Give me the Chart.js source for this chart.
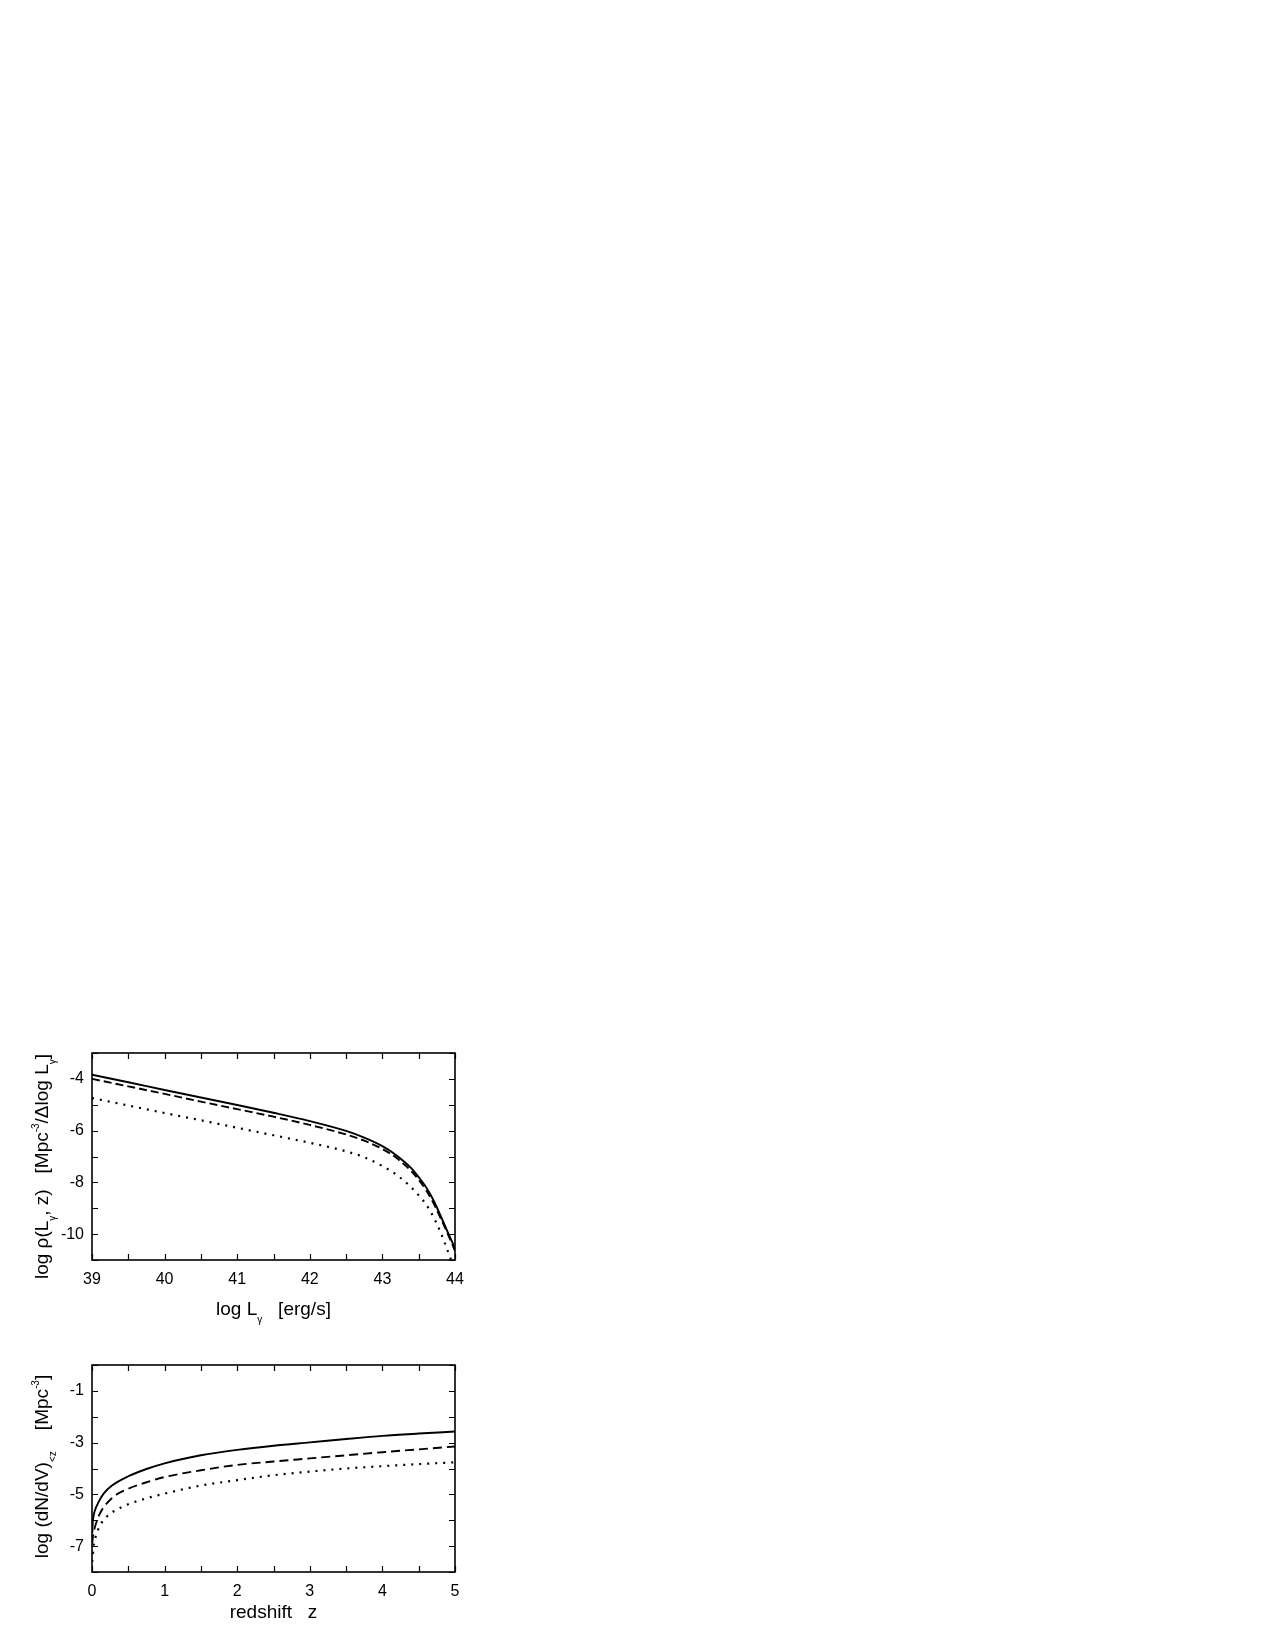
<!DOCTYPE html>
<html>
<head>
<meta charset="utf-8">
<script src="https://cdn.jsdelivr.net/npm/chart.js@4.4.0/dist/chart.umd.min.js"></script>
<style>
  body { margin: 0; background: #fff; width: 1275px; height: 1650px; position: relative; }
  canvas { position: absolute; left: 0; }
  #lumChart { top: 1030px; }
  #zChart { top: 1345px; }
</style>
</head>
<body>
<canvas id="lumChart" width="480" height="300"></canvas>
<canvas id="zChart" width="480" height="300"></canvas>
<script>
// =============================================
// DATA - upper panel (luminosity function)
// =============================================
const logL = [39, 39.5, 40, 40.5, 41, 41.5, 42, 42.5, 42.75, 43, 43.2, 43.4, 43.5, 43.6, 43.7, 43.8, 43.9, 44];
const rhoSolid = [-3.84, -4.13, -4.43, -4.72, -5.01, -5.31, -5.63, -6.01, -6.27, -6.60, -6.97, -7.46, -7.80, -8.18, -8.67, -9.28, -9.92, -10.55];
const rhoDashed = [-4.00, -4.29, -4.58, -4.88, -5.17, -5.46, -5.78, -6.15, -6.39, -6.71, -7.07, -7.57, -7.90, -8.29, -8.78, -9.37, -9.99, -10.65];
const logLDotted = [39, 39.5, 40, 40.5, 41, 41.5, 42, 42.5, 42.75, 43, 43.2, 43.4, 43.5, 43.6, 43.7, 43.8, 43.9, 43.96];
const rhoDotted = [-4.74, -5.03, -5.32, -5.60, -5.89, -6.18, -6.47, -6.80, -7.03, -7.37, -7.72, -8.20, -8.50, -8.85, -9.32, -9.92, -10.65, -11.10];

const lumXLabels = [39, 40, 41, 42, 43, 44];
const lumXMarks = [39, 39.5, 40, 40.5, 41, 41.5, 42, 42.5, 43, 43.5, 44];
const lumYLabels = [-10, -8, -6, -4];
const lumYMarks = [-11, -10, -9, -8, -7, -6, -5, -4, -3];

// =============================================
// DATA - lower panel (cumulative density vs redshift)
// =============================================
const zSolid = [0.003, 0.01, 0.02, 0.04, 0.09, 0.16, 0.28, 0.5, 0.75, 1, 1.5, 2, 2.5, 3, 3.5, 4, 4.5, 5];
const nSolid = [-6.5, -6.1, -5.85, -5.62, -5.30, -4.97, -4.65, -4.30, -4.02, -3.80, -3.49, -3.28, -3.12, -2.99, -2.86, -2.74, -2.65, -2.57];
const zDashed = [0.003, 0.01, 0.03, 0.07, 0.12, 0.2, 0.32, 0.5, 0.73, 1, 1.5, 2, 2.5, 3, 3.5, 4, 4.5, 5];
const nDashed = [-6.9, -6.7, -6.38, -6.0, -5.68, -5.36, -5.04, -4.78, -4.55, -4.33, -4.07, -3.86, -3.73, -3.61, -3.49, -3.37, -3.26, -3.15];
const zDotted = [0.003, 0.01, 0.02, 0.05, 0.1, 0.2, 0.32, 0.5, 0.73, 1, 1.5, 2, 2.5, 3, 3.5, 4, 4.5, 5];
const nDotted = [-7.6, -7.41, -7.03, -6.64, -6.26, -5.87, -5.62, -5.38, -5.17, -4.97, -4.66, -4.45, -4.26, -4.12, -4.00, -3.91, -3.83, -3.76];

const zXLabels = [0, 1, 2, 3, 4, 5];
const zXMarks = [0, 0.5, 1, 1.5, 2, 2.5, 3, 3.5, 4, 4.5, 5];
const zYLabels = [-7, -5, -3, -1];
const zYMarks = [-8, -7, -6, -5, -4, -3, -2, -1, 0];

// =============================================
// HELPERS
// =============================================
const FONT = '"Liberation Sans", Arial, Helvetica, sans-serif';

function pts(xs, ys) {
    return xs.map((x, i) => ({ x: x, y: ys[i] }));
}

// parts: [text, kind]  kind 0 = normal, -1 = subscript, 1 = superscript
function drawRich(ctx, parts, size) {
    const small = Math.round(size * 0.55);
    let w = 0;
    parts.forEach(([t, k]) => {
        ctx.font = (k ? small : size) + 'px ' + FONT;
        w += ctx.measureText(t).width;
    });
    let x = -w / 2;
    parts.forEach(([t, k]) => {
        ctx.font = (k ? small : size) + 'px ' + FONT;
        const dy = k === -1 ? size * 0.4 : (k === 1 ? -size * 0.45 : 0);
        ctx.fillText(t, x, dy);
        x += ctx.measureText(t).width;
    });
}

// Box, inward ticks on all four sides, and the rich axis titles
const framePlugin = {
    id: 'frame',
    afterDatasetsDraw(chart, args, opts) {
        const { ctx, chartArea: a, scales: { x, y } } = chart;
        const T = 6;
        ctx.save();
        ctx.strokeStyle = '#000';
        ctx.lineWidth = 1.2;
        ctx.beginPath();
        opts.xMarks.forEach(v => {
            const px = Math.round(x.getPixelForValue(v)) + 0.5;
            ctx.moveTo(px, a.bottom); ctx.lineTo(px, a.bottom - T);
            ctx.moveTo(px, a.top); ctx.lineTo(px, a.top + T);
        });
        opts.yMarks.forEach(v => {
            const py = Math.round(y.getPixelForValue(v)) + 0.5;
            ctx.moveTo(a.left, py); ctx.lineTo(a.left + T, py);
            ctx.moveTo(a.right, py); ctx.lineTo(a.right - T, py);
        });
        ctx.stroke();
        ctx.lineWidth = 1.6;
        ctx.strokeRect(a.left, a.top, a.right - a.left, a.bottom - a.top);

        ctx.fillStyle = '#000';
        ctx.textBaseline = 'alphabetic';
        // x title
        ctx.save();
        ctx.translate((a.left + a.right) / 2, a.bottom + opts.xGap);
        drawRich(ctx, opts.xTitle, 19);
        ctx.restore();
        // y title
        ctx.save();
        ctx.translate(a.left - opts.yGap, (a.top + a.bottom) / 2 + opts.yShift);
        ctx.rotate(-Math.PI / 2);
        drawRich(ctx, opts.yTitle, 19);
        ctx.restore();
        ctx.restore();
    }
};

function lineSet(data, dash) {
    return {
        data: data,
        showLine: true,
        borderColor: '#000',
        borderWidth: dash && dash[0] < 4 ? 2.2 : 1.9,
        borderDash: dash || [],
        borderCapStyle: 'butt',
        pointRadius: 0,
        fill: false,
        cubicInterpolationMode: 'monotone'
    };
}

function makeChart(id, cfg) {
    const ctx = document.getElementById(id).getContext('2d');
    return new Chart(ctx, {
        type: 'scatter',
        data: { datasets: cfg.datasets },
        options: {
            responsive: false,
            animation: false,
            devicePixelRatio: 1,
            layout: { padding: { top: cfg.padTop, right: 25, left: 0, bottom: 0 } },
            plugins: {
                legend: { display: false },
                tooltip: { enabled: false },
                frame: cfg.frame
            },
            scales: {
                x: {
                    type: 'linear',
                    min: cfg.xMin,
                    max: cfg.xMax,
                    grid: { display: false },
                    border: { display: false },
                    afterBuildTicks: (s) => { s.ticks = cfg.xLabels.map(v => ({ value: v })); },
                    afterFit: (s) => { s.height = cfg.xHeight; },
                    ticks: {
                        color: '#000',
                        padding: 2,
                        maxRotation: 0,
                        autoSkip: false,
                        font: { family: FONT, size: 16 }
                    }
                },
                y: {
                    type: 'linear',
                    min: cfg.yMin,
                    max: cfg.yMax,
                    grid: { display: false },
                    border: { display: false },
                    afterBuildTicks: (s) => { s.ticks = cfg.yLabels.map(v => ({ value: v })); },
                    afterFit: (s) => { s.width = 92; },
                    ticks: {
                        color: '#000',
                        padding: 0,
                        autoSkip: false,
                        font: { family: FONT, size: 16 }
                    }
                }
            }
        },
        plugins: [framePlugin]
    });
}

// =============================================
// CHARTS
// =============================================
makeChart('lumChart', {
    padTop: 23,
    xHeight: 70,
    xMin: 39, xMax: 44,
    yMin: -11, yMax: -3,
    xLabels: lumXLabels,
    yLabels: lumYLabels,
    datasets: [
        lineSet(pts(logL, rhoSolid)),
        lineSet(pts(logL, rhoDashed), [8, 4]),
        lineSet(pts(logLDotted, rhoDotted), [2, 6])
    ],
    frame: {
        xMarks: lumXMarks,
        yMarks: lumYMarks,
        xGap: 55,
        yGap: 44,
        yShift: 10,
        xTitle: [['log L', 0], ['γ', -1], ['   [erg/s]', 0]],
        yTitle: [['log ρ(L', 0], ['γ', -1], [', z)   [Mpc', 0], ['-3', 1], ['/Δlog L', 0], ['γ', -1], [']', 0]]
    }
});

makeChart('zChart', {
    padTop: 20,
    xHeight: 73,
    xMin: 0, xMax: 5,
    yMin: -8, yMax: 0,
    xLabels: zXLabels,
    yLabels: zYLabels,
    datasets: [
        lineSet(pts(zSolid, nSolid)),
        lineSet(pts(zDashed, nDashed), [9, 5]),
        lineSet(pts(zDotted, nDotted), [2, 6])
    ],
    frame: {
        xMarks: zXMarks,
        yMarks: zYMarks,
        xGap: 46,
        yGap: 44,
        yShift: -2,
        xTitle: [['redshift   z', 0]],
        yTitle: [['log (dN/dV)', 0], ['<z', -1], ['    [Mpc', 0], ['-3', 1], [']', 0]]
    }
});
</script>
</body>
</html>
